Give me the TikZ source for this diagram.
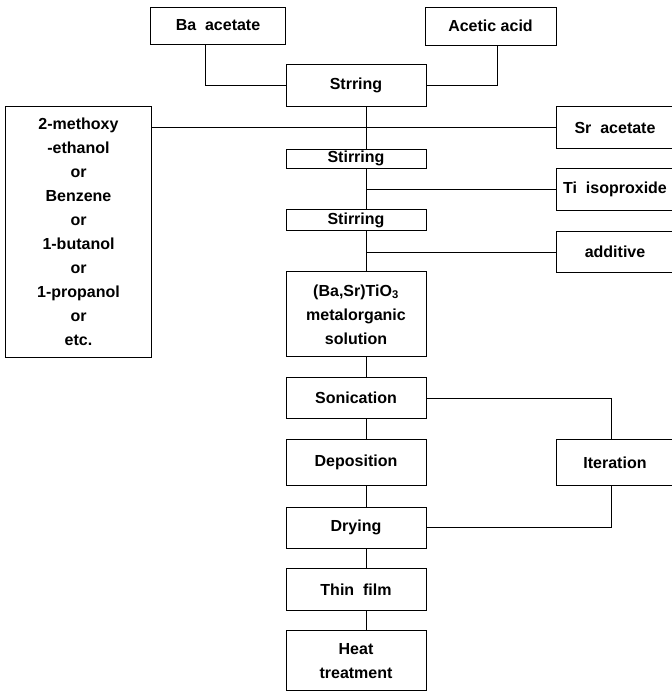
\documentclass[tikz,border=0pt]{standalone}
\usepackage{fontspec}
\setmainfont{Liberation Sans}
\usetikzlibrary{positioning}

\begin{document}
\begin{tikzpicture}[x=1pt, y=-1pt,
    box/.style={draw, line width=.9pt, inner sep=0pt, align=center,
                font=\bfseries\fontsize{16}{24}\selectfont},
    proc/.style={box, minimum width=140pt},
    side/.style={box, minimum width=118pt},
    link/.style={line width=.9pt}]
      \useasboundingbox (0,0) rectangle (671,692);
      \coordinate (spine) at (366,0);

      \node[box, minimum width=135pt, minimum height=37pt]  (ba)      at (218,25.5)  {Ba~ acetate};
      \node[box, minimum width=131pt, minimum height=38pt]  (acetic)  at (490.5,26)  {Acetic acid};
      \node[proc, minimum height=42pt]  (strring) at (356,85.5)  {Strring};

      \node[box, minimum width=146pt, minimum height=251pt] (solvent) at (78.5,231.5)
            {2-methoxy\\-ethanol\\or\\Benzene\\or\\1-butanol\\or\\1-propanol\\or\\etc.};

      \node[side, minimum height=42pt]  (sr)      at (615,127.5) {Sr~ acetate};
      \node[proc, minimum height=19pt]  (stir1)   at (356,158.7) {Stirring};
      \node[side, minimum height=42pt]  (ti)      at (615,189.5) {Ti~ isoproxide};
      \node[proc, minimum height=21pt]  (stir2)   at (356,220)   {Stirring};
      \node[side, minimum height=41pt]  (add)     at (615,252)   {additive};
      \node[proc, minimum height=85pt]  (sol)     at (356,314.3) {(Ba,Sr)TiO\textsubscript{3}\\metalorganic\\solution};

      \node[proc, minimum height=41pt]  (sonic)   at (356,398.2) {Sonication};
      \node[proc, minimum height=46pt]  (depo)    at (356,462.5) {Deposition};
      \node[side, minimum height=46pt]  (iter)    at (615,462.5) {Iteration};
      \node[proc, minimum height=41pt]  (dry)     at (356,527.8) {Drying};
      \node[proc, minimum height=42pt]  (thin)    at (356,589.7) {Thin~ film};
      \node[proc, minimum height=60pt]  (heat)    at (356,660.7) {Heat\\treatment};

      % main column
      \foreach \a/\b in {strring/stir1, stir1/stir2, stir2/sol, sol/sonic,
                         sonic/depo, depo/dry, dry/thin, thin/heat}
        \draw[link] (\a.south -| spine) -- (\b.north -| spine);

      % feeds
      \draw[link] ([xshift=-12.6pt]ba.south) |- (strring.west);
      \draw[link] ([xshift=6.5pt]acetic.south) |- (strring.east);
      \draw[link] (sr.west -| solvent.east) -- (sr.west);
      \draw[link] (ti.west) -- (ti.west -| spine);
      \draw[link] (add.west) -- (add.west -| spine);

      % iteration loop
      \draw[link] (sonic.east) -| ([xshift=-3.3pt]iter.north);
      \draw[link] (dry.east) -| ([xshift=-3.3pt]iter.south);
\end{tikzpicture}
\end{document}
